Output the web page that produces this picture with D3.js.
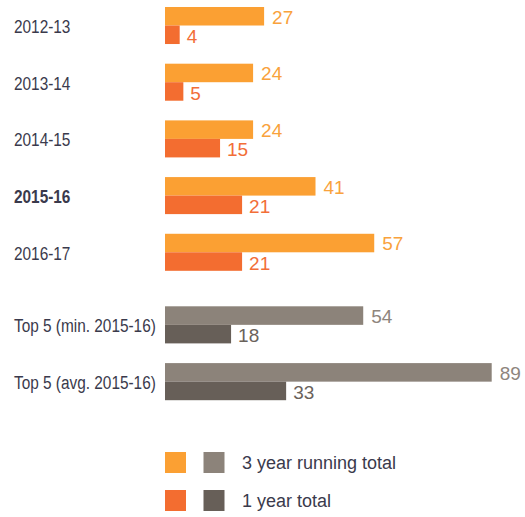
<!DOCTYPE html>
<html>
<head>
<meta charset="utf-8">
<script src="https://cdn.jsdelivr.net/npm/d3@7"></script>
<style>
  html, body { margin: 0; padding: 0; background: #ffffff; }
  svg { display: block; }
</style>
</head>
<body>
<svg id="chart" width="525" height="517"></svg>
<script>
// ---- data ----
const years = ["2012-13", "2013-14", "2014-15", "2015-16", "2016-17"];
const yearsThreeYear = [27, 24, 24, 41, 57];
const yearsOneYear = [4, 5, 15, 21, 21];
const highlightYear = "2015-16";

const benchmarks = ["Top 5 (min. 2015-16)", "Top 5 (avg. 2015-16)"];
const benchThreeYear = [54, 89];
const benchOneYear = [18, 33];

const legendLabels = ["3 year running total", "1 year total"];

// ---- styles ----
const colors = {
  orange3: "#FBA033",
  orange1: "#F36D30",
  gray3: "#8C837A",
  gray1: "#675F58",
  orange3Text: "#F9A23C",
  orange1Text: "#F26E38",
  gray3Text: "#8E857D",
  gray1Text: "#6A625B",
  category: "#3A3A4C"
};

const svg = d3.select("#chart");

const x = d3.scaleLinear()
  .domain([0, d3.max(benchThreeYear.concat(yearsThreeYear))])
  .range([165, 491.7]);

const yYears = d3.scaleBand().domain(years)
  .range([7, 7 + 4 * 56.7 + 37]).paddingInner(0.347).paddingOuter(0);
const yBench = d3.scaleBand().domain(benchmarks)
  .range([306.3, 306.3 + 56.9 + 37]).paddingInner(0.347).paddingOuter(0);

function drawSection(cats, yScale, v3, v1, c3, c1, t3, t1) {
  const rows = cats.map((c, i) => ({ cat: c, v3: v3[i], v1: v1[i] }));
  const bh = yScale.bandwidth() / 2;
  const g = svg.append("g");

  const row = g.selectAll("g.row").data(rows).join("g")
    .attr("class", "row")
    .attr("transform", d => `translate(0,${yScale(d.cat)})`);

  row.append("rect")
    .attr("x", x(0)).attr("y", 0)
    .attr("width", d => x(d.v3) - x(0)).attr("height", bh)
    .attr("fill", c3);
  row.append("rect")
    .attr("x", x(0)).attr("y", bh)
    .attr("width", d => x(d.v1) - x(0)).attr("height", bh)
    .attr("fill", c1);

  row.append("text")
    .attr("x", d => x(d.v3) + 8).attr("y", bh / 2 + 0.5)
    .attr("dy", "0.36em")
    .attr("fill", t3)
    .style("font-family", "'Liberation Sans', Arial, sans-serif")
    .style("font-size", "19px")
    .text(d => d.v3);
  row.append("text")
    .attr("x", d => x(d.v1) + 7).attr("y", bh * 1.5 + 1.5)
    .attr("dy", "0.36em")
    .attr("fill", t1)
    .style("font-family", "'Liberation Sans', Arial, sans-serif")
    .style("font-size", "19px")
    .text(d => d.v1);

  // category labels, horizontally condensed to mimic the narrow face
  row.append("text")
    .attr("transform", `translate(14,${bh + 0.5}) scale(0.81,1)`)
    .attr("dy", "0.36em")
    .attr("fill", colors.category)
    .style("font-family", "'Liberation Sans', Arial, sans-serif")
    .style("font-size", "19px")
    .style("font-weight", d => d.cat === highlightYear ? "bold" : "normal")
    .text(d => d.cat);
}

drawSection(years, yYears, yearsThreeYear, yearsOneYear,
  colors.orange3, colors.orange1, colors.orange3Text, colors.orange1Text);
drawSection(benchmarks, yBench, benchThreeYear, benchOneYear,
  colors.gray3, colors.gray1, colors.gray3Text, colors.gray1Text);

// ---- legend ----
const legendY = d3.scalePoint().domain(legendLabels).range([452, 490]);
const legendSwatches = [
  [colors.orange3, colors.gray3],
  [colors.orange1, colors.gray1]
];
const lg = svg.append("g");
legendLabels.forEach((lab, i) => {
  const yy = legendY(lab);
  legendSwatches[i].forEach((c, j) => {
    lg.append("rect")
      .attr("x", 165 + j * 38.5).attr("y", yy)
      .attr("width", 21).attr("height", 21)
      .attr("fill", c);
  });
  lg.append("text")
    .attr("x", 242).attr("y", yy + 10.5)
    .attr("dy", "0.36em")
    .attr("fill", colors.category)
    .style("font-family", "'Liberation Sans', Arial, sans-serif")
    .style("font-size", "18px")
    .text(lab);
});
</script>
</body>
</html>
